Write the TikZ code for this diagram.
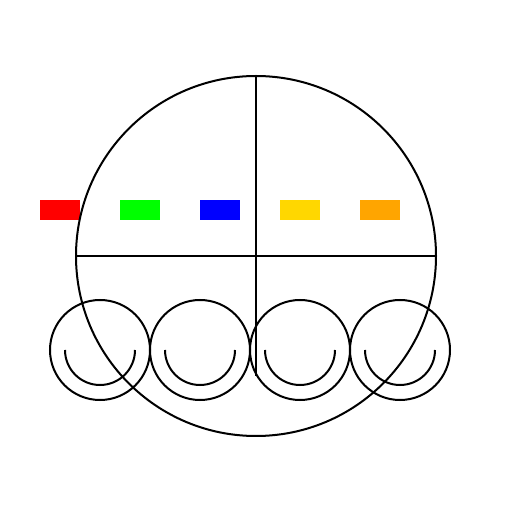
\documentclass[tikz,border=0pt]{standalone}
\definecolor{cgold}{RGB}{255,215,0}
\definecolor{corange}{RGB}{255,165,0}
\definecolor{cgreen}{RGB}{0,255,0}
\definecolor{cred}{RGB}{255,0,0}
\definecolor{cblue}{RGB}{0,0,255}
\begin{document}
\begin{tikzpicture}[x=1pt,y=1pt,line width=2pt,
  bar/.style={draw=none}]
\useasboundingbox[fill=white] (0,0) rectangle (512,512);
\fill[cred] (40,292) rectangle (80,312);
\fill[cgreen] (120,292) rectangle (160,312);
\fill[cblue] (200,292) rectangle (240,312);
\fill[cgold] (280,292) rectangle (320,312);
\fill[corange] (360,292) rectangle (400,312);
\draw (256,256) circle[radius=180];
\draw (76,256) -- (436,256);
\draw (256,436) -- (256,136);
\foreach \cx in {100,200,300,400}{
  \draw (\cx,162) circle[radius=50];
  \draw (\cx-35,162) arc[start angle=180,end angle=360,radius=35];
}
\end{tikzpicture}
\end{document}
